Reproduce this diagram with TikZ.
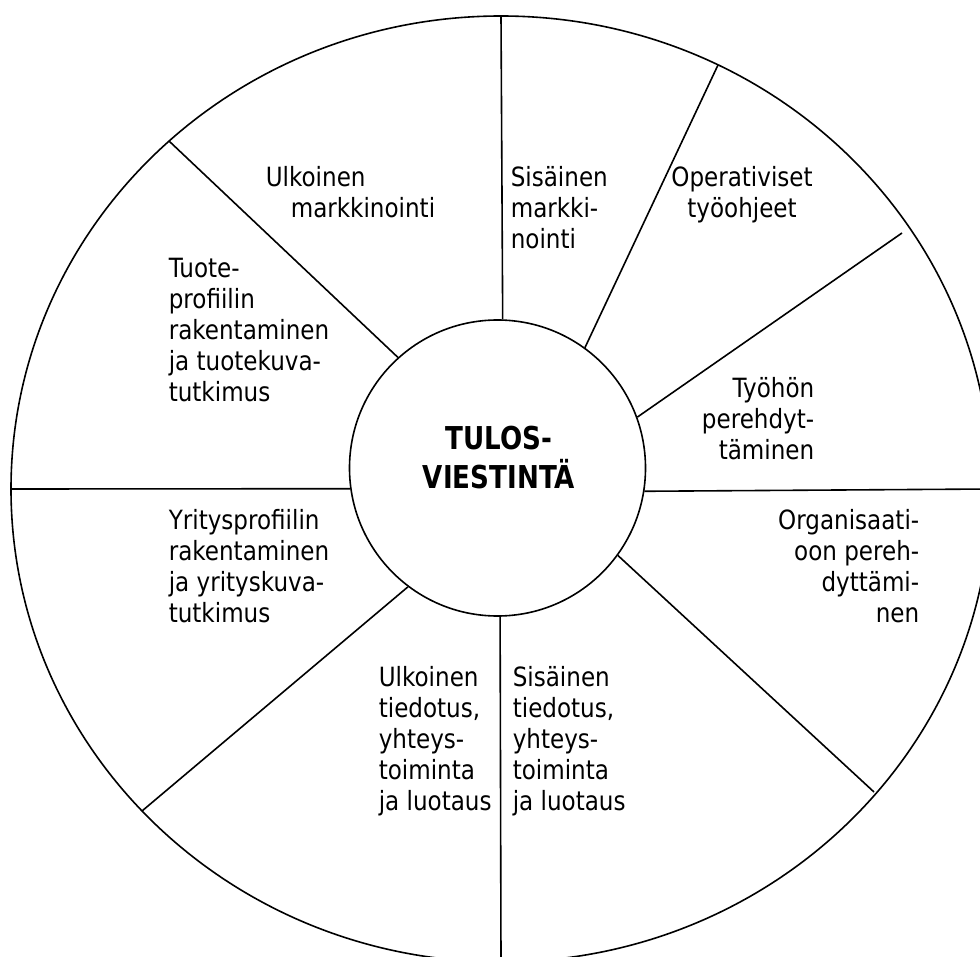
\documentclass[tikz,border=0pt]{standalone}
\usepackage{fontspec}
\setmainfont{DejaVu Sans}[FakeStretch=0.87]
\newfontfamily\hubfont{DejaVu Sans}[FakeStretch=0.83]
\begin{document}
\begin{tikzpicture}[x=1pt,y=-1pt,line width=1.6pt,
  txt/.style={inner sep=0pt,font=\fontsize{26.5}{31}\selectfont},
  hubtxt/.style={inner sep=0pt,align=center,font=\hubfont\bfseries\fontsize{31.5}{39}\selectfont}]
\useasboundingbox (0,0) rectangle (980,957);
\clip (0,0) rectangle (980,957);

% outer rim
\draw (501,489) ellipse [x radius=490, y radius=473];

% hub
\node[draw,circle,minimum size=296pt,inner sep=0pt] (hub) at (497.5,468) {};
\node[hubtxt] (title) at (499,458) {TULOS-\\VIESTINTÄ};

% free ends of the spokes
\coordinate (o1) at (501,16);
\coordinate (o2) at (718,65);
\coordinate (o3) at (902,233);
\coordinate (o4) at (991,489);
\coordinate (o5) at (874,792);
\coordinate (o6) at (501,962);
\coordinate (o7) at (142,811);
\coordinate (o8) at (11,489);
\coordinate (o9) at (169,141);

% spokes
\draw (hub.88.6) -- (o1);
\draw (hub.54.1) -- (o2);
\draw (hub.20.3) -- (o3);
\draw (hub.351.8) -- (o4);
\draw (hub.324.4) -- (o5);
\draw (hub.271.4) -- (o6);
\draw (hub.233) -- (o7);
\draw (hub.188.2) -- (o8);
\draw (hub.132.1) -- (o9);

% sector labels
\node[txt,align=left,anchor=north west] (ulkmark) at (265,166) {Ulkoinen\\\hspace*{25pt}markkinointi};
\node[txt,align=left,anchor=north west] (sismark) at (510,166) {Sisäinen\\markki-\\nointi};
\node[txt,align=center,anchor=north] (oper) at (742,166) {Operativiset\\työohjeet};
\node[txt,align=right,anchor=north east] (tyoh) at (815,377) {Työhön\\perehdyt-\\täminen};
\node[txt,align=left,anchor=north west] (tuote) at (168,257) {Tuote-\\profiilin\\rakentaminen\\ja tuotekuva-\\tutkimus};
\node[txt,align=left,anchor=north west] (yritys) at (168,509) {Yritysprofiilin\\rakentaminen\\ja yrityskuva-\\tutkimus};
\node[txt,align=right,anchor=north east] (organ) at (920,509) {Organisaati-\\oon pereh-\\dyttämi-\\nen};
\node[txt,align=left,anchor=north west] (ulktied) at (378,666) {Ulkoinen\\tiedotus,\\yhteys-\\toiminta\\ja luotaus};
\node[txt,align=left,anchor=north west] (sistied) at (512,666) {Sisäinen\\tiedotus,\\yhteys-\\toiminta\\ja luotaus};
\end{tikzpicture}
\end{document}
